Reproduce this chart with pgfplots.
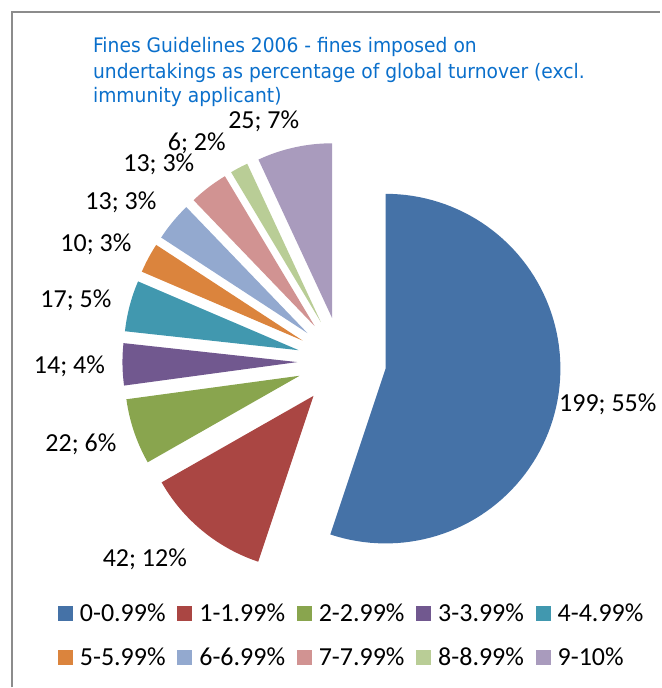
\documentclass[border=0pt]{standalone}
\usepackage{pgfplots}
\pgfplotsset{compat=1.18}
\usepackage{fontspec}
\setmainfont{Carlito}
\newfontfamily\titlefont[FakeStretch=0.935]{DejaVu Sans}
\definecolor{c1}{HTML}{4572A7}
\definecolor{c2}{HTML}{AA4643}
\definecolor{c3}{HTML}{89A54E}
\definecolor{c4}{HTML}{71588F}
\definecolor{c5}{HTML}{4198AF}
\definecolor{c6}{HTML}{DB843D}
\definecolor{c7}{HTML}{93A9CF}
\definecolor{c8}{HTML}{D19392}
\definecolor{c9}{HTML}{B9CD96}
\definecolor{c10}{HTML}{A99BBD}
\definecolor{titleblue}{HTML}{0A6FCB}
% pie geometry (in pixel units of the picture)
\def\total{361}   % sum of the ten values
\def\cx{342.1}\def\cy{326.1}\def\rad{175}\def\expl{44.5}
\xdef\cum{0}
\newcommand\pieslice[2]{% #1 value, #2 colour
  \pgfmathsetmacro\angA{90-\cum/\total*360}%
  \pgfmathsetmacro\angB{90-(\cum+#1)/\total*360}%
  \pgfmathsetmacro\angM{(\angA+\angB)/2}%
  \pgfmathsetmacro\vx{\cx+\expl*cos(\angM)}%
  \pgfmathsetmacro\vy{\cy+\expl*sin(\angM)}%
  \pgfmathsetmacro\newcum{\cum+#1}%
  \xdef\cum{\newcum}%
  \edef\doslice{\noexpand\addplot[fill=#2, draw=none, domain=\angB:\angA, samples=90]
    ({\vx+\rad*cos(x)},{\vy+\rad*sin(x)}) -- (axis cs:\vx,\vy) -- cycle;}%
  \doslice
}
\begin{document}
\begin{tikzpicture}
\begin{axis}[
  scale only axis, width=661pt, height=688pt,
  xmin=0, xmax=661, ymin=0, ymax=688,
  hide axis, clip=false,
  legend columns=5,
  legend style={at={(axis description cs:0.08775,0.1214)}, anchor=north west,
    draw=none, fill=none, inner sep=0pt, outer sep=0pt,
    font=\fontsize{26}{31}\selectfont,
    cells={anchor=base west}, nodes={inner sep=0pt},
    column sep=7pt, row sep=25pt,
    /tikz/every even column/.append style={column sep=11.75pt}},
  legend image code/.code={\fill[#1] (0pt,0.5pt) rectangle (15pt,15.5pt);},
]
\path (axis cs:0,0) rectangle (axis cs:661,688);
\pieslice{199}{c1}\addlegendentry{0-0.99\%}
\pieslice{42}{c2}\addlegendentry{1-1.99\%}
\pieslice{22}{c3}\addlegendentry{2-2.99\%}
\pieslice{14}{c4}\addlegendentry{3-3.99\%}
\pieslice{17}{c5}\addlegendentry{4-4.99\%}
\pieslice{10}{c6}\addlegendentry{5-5.99\%}
\pieslice{13}{c7}\addlegendentry{6-6.99\%}
\pieslice{13}{c8}\addlegendentry{7-7.99\%}
\pieslice{6}{c9}\addlegendentry{8-8.99\%}
\pieslice{25}{c10}\addlegendentry{9-10\%}
% data labels
\begin{scope}[every node/.style={font=\fontsize{26}{31}\selectfont, anchor=base, inner sep=0pt}]
\node at (axis cs:608.5,276) {199; 55\%};
\node at (axis cs:145,121) {42; 12\%};
\node at (axis cs:81,236) {22; 6\%};
\node at (axis cs:69.5,314) {14; 4\%};
\node at (axis cs:76,380) {17; 5\%};
\node at (axis cs:96,436) {10; 3\%};
\node at (axis cs:121,478) {13; 3\%};
\node at (axis cs:159,516) {13; 3\%};
\node at (axis cs:197,537) {6; 2\%};
\node at (axis cs:264,559) {25; 7\%};
\end{scope}
% title
\begin{scope}[every node/.style={font=\titlefont\fontsize{20}{25}\selectfont, text=titleblue, anchor=base west, inner sep=0pt}]
\node at (axis cs:93,635) {Fines Guidelines 2006 - fines imposed on};
\node at (axis cs:93,609) {undertakings as percentage of global turnover (excl.};
\node at (axis cs:93,585) {immunity applicant)};
\end{scope}
% chart area border
\draw[color=black!45, line width=1.5pt] (axis cs:12,0) -- (axis cs:12,676) -- (axis cs:661,676);
\end{axis}
\end{tikzpicture}
\end{document}
